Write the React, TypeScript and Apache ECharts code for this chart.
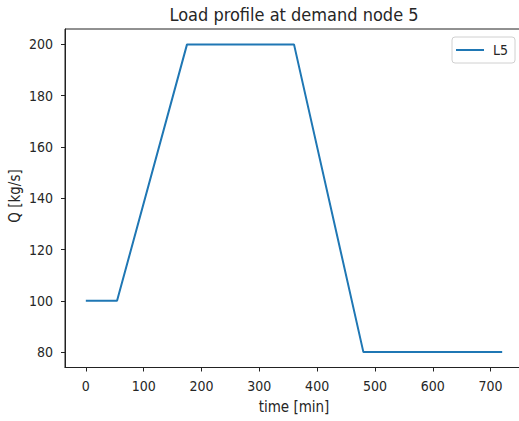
import React, { useEffect, useRef } from "react";
import * as echarts from "echarts";

const timeMin = [0, 54, 175, 360, 480, 720];
const loadL5 = [100, 100, 200, 200, 80, 80];
const xTicks = [0, 100, 200, 300, 400, 500, 600, 700];
const yTicks = [80, 100, 120, 140, 160, 180, 200];
const seriesName = "L5";
const titleText = "Load profile at demand node 5";
const xLabel = "time [min]";
const yLabel = "Q [kg/s]";

const FONT = "'DejaVu Sans Condensed', 'DejaVu Sans'";
const TXT = "#262626";

export default function App() {
  const ref = useRef<HTMLDivElement>(null);
  useEffect(() => {
    if (!ref.current) return;
    const chart = echarts.init(ref.current, undefined, { renderer: "svg" });
    const data = timeMin.map((t, i) => [t, loadL5[i]]);
    chart.setOption({
      animation: false,
      backgroundColor: "#ffffff",
      textStyle: { fontFamily: FONT },
      grid: {
        left: 65,
        top: 29,
        width: 458,
        height: 338.5,
        show: true,
        borderColor: "#222",
        borderWidth: 1,
        backgroundColor: "transparent",
        outerBoundsMode: "none",
        containLabel: false,
      },
      legend: {
        data: [seriesName],
        left: 452,
        top: 37,
        orient: "vertical",
        padding: [6, 7, 6, 4],
        itemWidth: 28,
        itemHeight: 14,
        itemGap: 0,
        borderColor: "#d0d0d0",
        borderWidth: 1,
        borderRadius: 3,
        backgroundColor: "#fff",
        icon: "path://M0,6 L28,6 L28,8 L0,8 Z",
        textStyle: { fontFamily: FONT, fontSize: 14, color: TXT, padding: [0, 0, 0, 4] },
      },
      xAxis: {
        type: "value",
        min: -36,
        max: 756,
        splitLine: { show: false },
        axisLine: { show: true, onZero: false, lineStyle: { color: "#222", width: 1 } },
        axisTick: { show: true, length: 4, inside: false, customValues: xTicks, lineStyle: { color: "#222" } },
        axisLabel: { customValues: xTicks, margin: 11, fontFamily: FONT, fontSize: 14, color: TXT },
      },
      yAxis: {
        type: "value",
        min: 74,
        max: 206,
        splitLine: { show: false },
        axisLine: { show: true, onZero: false, lineStyle: { color: "#222", width: 1 } },
        axisTick: { show: true, length: 4, inside: false, customValues: yTicks, lineStyle: { color: "#222" } },
        axisLabel: { customValues: yTicks, margin: 12, fontFamily: FONT, fontSize: 14, color: TXT },
      },
      series: [
        {
          name: seriesName,
          type: "line",
          data,
          showSymbol: false,
          symbol: "none",
          lineStyle: { color: "#1f77b4", width: 2 },
          itemStyle: { color: "#1f77b4" },
        },
      ],
      graphic: [
        {
          type: "text",
          x: 294,
          y: 14,
          style: { text: titleText, font: `18px ${FONT}`, fill: TXT, align: "center", verticalAlign: "middle" },
        },
        {
          type: "text",
          x: 294,
          y: 407,
          style: { text: xLabel, font: `15px ${FONT}`, fill: TXT, align: "center", verticalAlign: "middle" },
        },
        {
          type: "text",
          x: 15,
          y: 196,
          rotation: Math.PI / 2,
          style: { text: yLabel, font: `15px ${FONT}`, fill: TXT, align: "center", verticalAlign: "middle" },
        },
      ],
    });
    return () => chart.dispose();
  }, []);
  return (
    <div
      ref={ref}
      style={{ position: "absolute", left: 0, top: 0, width: 519, height: 421, overflow: "hidden" }}
    />
  );
}
